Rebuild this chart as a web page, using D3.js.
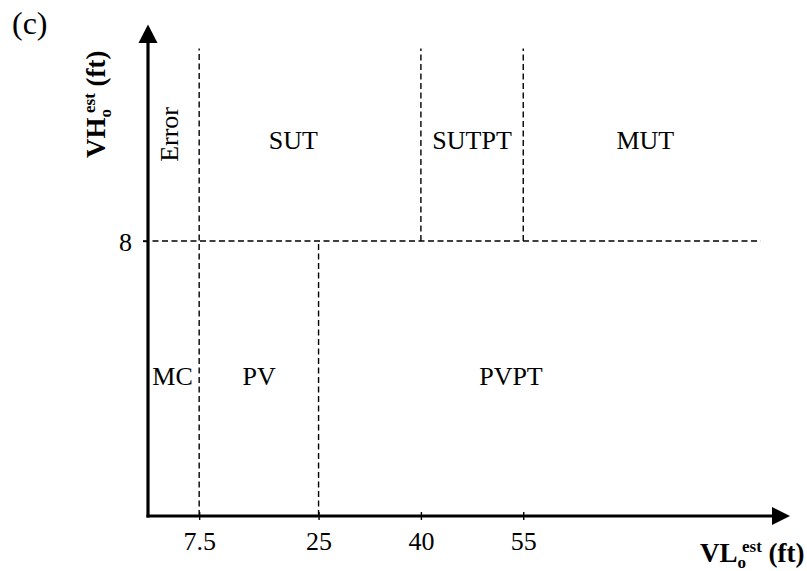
<!DOCTYPE html>
<html>
<head>
<meta charset="utf-8">
<script src="https://cdn.jsdelivr.net/npm/d3@7"></script>
<style>
  html, body { margin: 0; padding: 0; background: #fff; }
  svg { display: block; font-family: "Liberation Serif", "Times New Roman", serif; }
</style>
</head>
<body>
<svg id="chart" width="807" height="571"></svg>
<script>
// ---- data ----
const xTicks = [7.5, 25, 40, 55];
const yTicks = [8];
const vLineX = [7.5, 25, 40, 55];
const vLineY0 = [0, 0, 8, 8];
const vLineY1 = [13.6, 8, 13.6, 13.6];
const hLineY = [8];
const hLineX0 = [0];
const hLineX1 = [89.8];
const regionNames = ["Error", "SUT", "SUTPT", "MUT", "MC", "PV", "PVPT"];
const regionX = [4.4, 21.3, 47.5, 72.9, 3.6, 16.3, 53.2];
const regionY = [11.1, 10.68, 10.68, 10.68, 3.81, 3.81, 3.81];
const regionRot = [true, false, false, false, false, false, false];

// ---- layout ----
const svg = d3.select("#chart");
const x = d3.scaleLinear().domain([0, 94.1]).range([148, 790]);
const y = d3.scaleLinear().domain([0, 14.3]).range([516, 24.4]);

// dashed boundaries
const dash = "6,3.5";
svg.append("g").selectAll("line.v").data(vLineX).join("line")
  .attr("x1", d => x(d)).attr("x2", d => x(d))
  .attr("y1", (d, i) => y(vLineY0[i])).attr("y2", (d, i) => y(vLineY1[i]))
  .attr("stroke", "#000").attr("stroke-width", 1.4).attr("stroke-dasharray", dash);
svg.append("g").selectAll("line.h").data(hLineY).join("line")
  .attr("x1", (d, i) => x(hLineX0[i]) - 5).attr("x2", (d, i) => x(hLineX1[i]))
  .attr("y1", d => y(d)).attr("y2", d => y(d))
  .attr("stroke", "#000").attr("stroke-width", 1.4).attr("stroke-dasharray", dash);

// x axis ticks via d3 axis
const gx = svg.append("g").attr("transform", `translate(0,${y(0)})`)
  .call(d3.axisBottom(x).tickValues(xTicks).tickSize(4).tickSizeOuter(0).tickFormat(d => String(d)));
gx.select(".domain").remove();
gx.selectAll(".tick line").attr("y1", -4).attr("y2", 4).attr("stroke-width", 1.4);
gx.selectAll(".tick text").attr("y", 34).attr("dy", 0)
  .attr("font-size", 26).attr("font-family", "Liberation Serif").attr("fill", "#000");

const gy = svg.append("g").attr("transform", `translate(${x(0)},0)`)
  .call(d3.axisLeft(y).tickValues(yTicks).tickSize(5).tickSizeOuter(0).tickFormat(d => String(d)));
gy.select(".domain").remove();
gy.selectAll(".tick line").attr("stroke-width", 1.4);
gy.selectAll(".tick text").attr("x", -16).attr("dy", "0.38em")
  .attr("font-size", 26).attr("font-family", "Liberation Serif").attr("fill", "#000");

// axes lines with arrows
svg.append("line").attr("x1", x(0) - 1.5).attr("x2", 775).attr("y1", y(0)).attr("y2", y(0))
  .attr("stroke", "#000").attr("stroke-width", 3.2);
svg.append("line").attr("x1", x(0)).attr("x2", x(0)).attr("y1", y(0) + 1.5).attr("y2", 40)
  .attr("stroke", "#000").attr("stroke-width", 3.2);
svg.append("path").attr("d", `M${x(94.1)},${y(0)} L772,${y(0) - 9} L772,${y(0) + 9} Z`).attr("fill", "#000");
svg.append("path").attr("d", `M${x(0)},${y(14.3)} L${x(0) - 9.5},43 L${x(0) + 9.5},43 Z`).attr("fill", "#000");

// region labels
svg.append("g").selectAll("text").data(regionNames).join("text")
  .attr("transform", (d, i) => `translate(${x(regionX[i])},${y(regionY[i])})` + (regionRot[i] ? " rotate(-90)" : ""))
  .attr("text-anchor", "middle")
  .attr("font-size", 26)
  .attr("fill", "#000")
  .text(d => d);

// panel label
svg.append("text").attr("x", 12).attr("y", 34).attr("font-size", 32).text("(c)");

// axis title helper
function axisTitle(g, main) {
  const t = g.append("text").attr("font-weight", "bold").attr("fill", "#000");
  t.append("tspan").attr("font-size", 27).text(main);
  t.append("tspan").attr("font-size", 17).attr("dy", 6).text("o");
  t.append("tspan").attr("font-size", 17).attr("dx", -4).attr("dy", -16).text("est");
  t.append("tspan").attr("font-size", 27).attr("dy", 10).text("\u00a0(ft)");
  return t;
}
axisTitle(svg.append("g").attr("transform", "translate(700,562)"), "VL");
axisTitle(svg.append("g").attr("transform", "translate(105,158) rotate(-90)"), "VH");
</script>
</body>
</html>
